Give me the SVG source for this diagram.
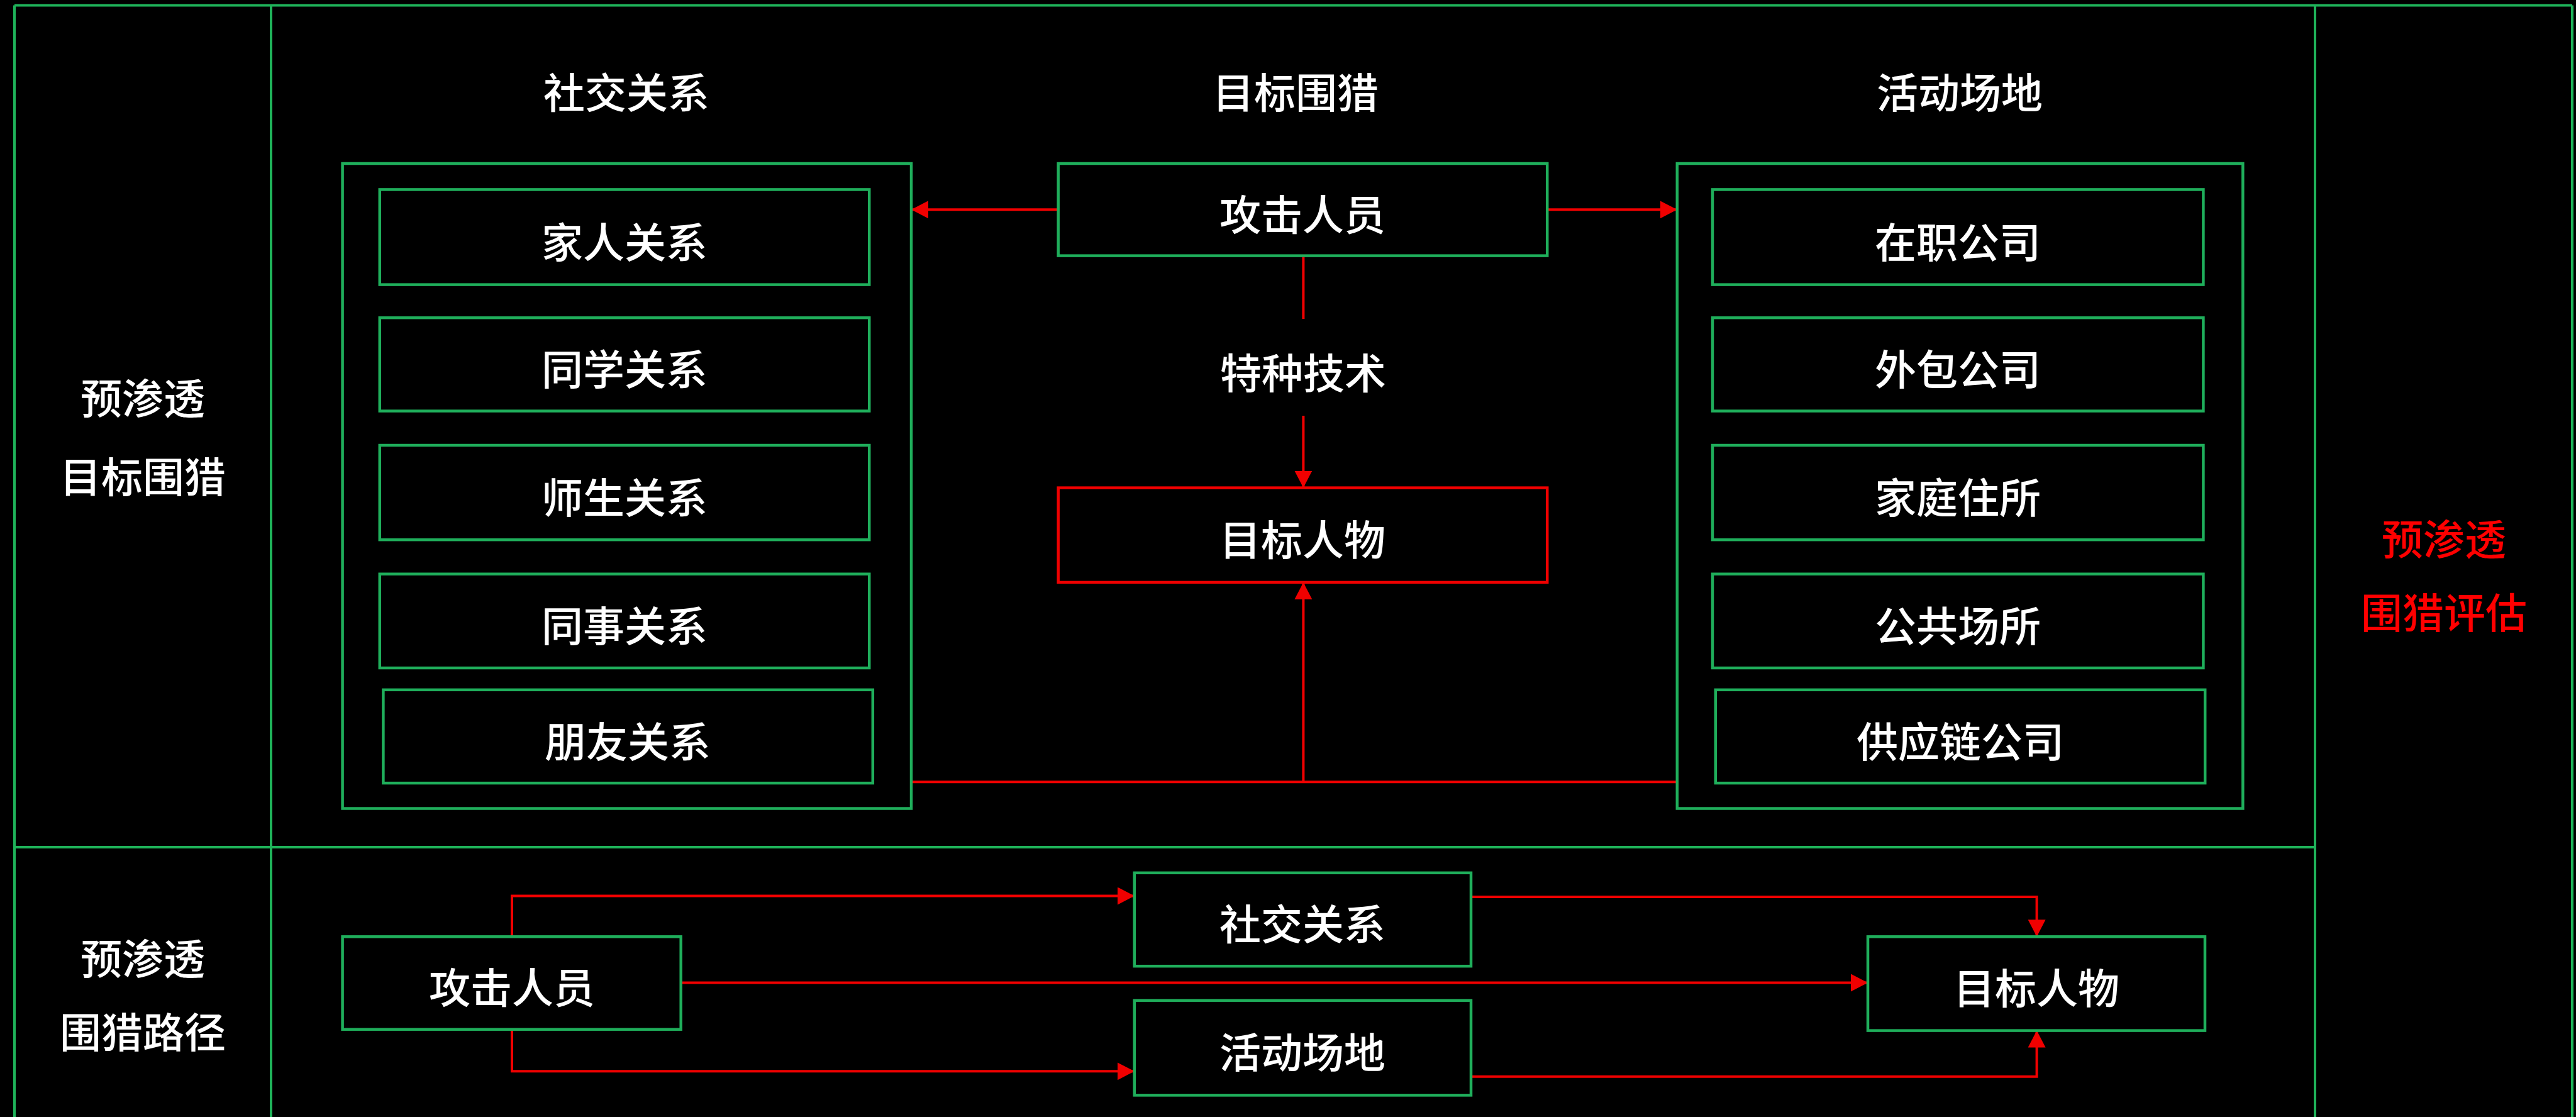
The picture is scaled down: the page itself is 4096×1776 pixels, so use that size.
<svg xmlns="http://www.w3.org/2000/svg" width="4096" height="1776" viewBox="0 0 4096 1776">
<defs>
<style>
.frame{fill:none;stroke:#1fb35a;stroke-width:4}
.box{fill:#000;stroke:#1fae5b;stroke-width:4.5}
.rbox{fill:#000;stroke:#f00000;stroke-width:4.5}
.wire{fill:none;stroke:#f00000;stroke-width:4}
.t{font-family:"Noto Sans CJK SC","Noto Sans CJK JP",sans-serif;font-size:66px;font-weight:500;fill:#fff;text-anchor:middle;dominant-baseline:central}
.rt{fill:#ff0000}
</style>
<marker id="ah" markerUnits="userSpaceOnUse" markerWidth="28" markerHeight="28" refX="27" refY="14" orient="auto">
<path d="M0,0 L27,14 L0,28 z" fill="#f00000"/>
</marker>
</defs>
<rect width="4096" height="1776" fill="#000"/>
<g id="frame">
<line class="frame" x1="23" y1="8.5" x2="4090" y2="8.5"/>
<line class="frame" x1="23" y1="8.5" x2="23" y2="1776"/>
<line class="frame" x1="431" y1="8.5" x2="431" y2="1776"/>
<line class="frame" x1="3681" y1="8.5" x2="3681" y2="1776"/>
<line class="frame" x1="4090" y1="8.5" x2="4090" y2="1776"/>
<line class="frame" x1="23" y1="1347" x2="3681" y2="1347"/>
</g>
<g id="labels">
<text class="t" x="227" y="629">预渗透</text>
<text class="t" x="227" y="754">目标围猎</text>
<text class="t" x="227" y="1520">预渗透</text>
<text class="t" x="227" y="1637">围猎路径</text>
<text class="t rt" x="3886" y="853">预渗透</text>
<text class="t rt" x="3886" y="970">围猎评估</text>
<text class="t" x="996" y="143">社交关系</text>
<text class="t" x="2060" y="143">目标围猎</text>
<text class="t" x="3116" y="143">活动场地</text>
</g>
<g id="connectors">
<line class="wire" x1="1682.7" y1="333.3" x2="1449" y2="333.3" marker-end="url(#ah)"/>
<line class="wire" x1="2460.2" y1="333.3" x2="2666.8" y2="333.3" marker-end="url(#ah)"/>
<line class="wire" x1="2072.4" y1="406.6" x2="2072.4" y2="507"/>
<line class="wire" x1="2072.4" y1="661" x2="2072.4" y2="775.6" marker-end="url(#ah)"/>
<line class="wire" x1="1449" y1="1243.2" x2="2666.8" y2="1243.2"/>
<line class="wire" x1="2072.4" y1="1243.2" x2="2072.4" y2="925.9" marker-end="url(#ah)"/>
<polyline class="wire" points="814,1489.3 814,1424.5 1803.8,1424.5" marker-end="url(#ah)"/>
<polyline class="wire" points="2339,1426 3238.6,1426 3238.6,1489.3" marker-end="url(#ah)"/>
<line class="wire" x1="1082.7" y1="1562.5" x2="2970" y2="1562.5" marker-end="url(#ah)"/>
<polyline class="wire" points="814,1636.7 814,1703.3 1803.8,1703.3" marker-end="url(#ah)"/>
<polyline class="wire" points="2339,1711.8 3238.6,1711.8 3238.6,1638.6" marker-end="url(#ah)"/>
</g>
<g id="social-group">
<rect class="box" x="544.6" y="260" width="904.4" height="1025.5"/>
</g>
<g id="n-family"><rect class="box" x="603.8" y="301.4" width="778.4" height="151.2"/><text class="t" x="993" y="381">家人关系</text></g>
<g id="n-classmate"><rect class="box" x="603.8" y="505.2" width="778.4" height="148.3"/><text class="t" x="993" y="583">同学关系</text></g>
<g id="n-teacher"><rect class="box" x="603.8" y="708" width="778.4" height="150.2"/><text class="t" x="993" y="787">师生关系</text></g>
<g id="n-colleague"><rect class="box" x="603.8" y="912.7" width="778.4" height="149.3"/><text class="t" x="993" y="991">同事关系</text></g>
<g id="n-friend"><rect class="box" x="609.4" y="1096.8" width="778.4" height="148.3"/><text class="t" x="998" y="1175">朋友关系</text></g>
<g id="venue-group">
<rect class="box" x="2666.8" y="260" width="899.5" height="1025.5"/>
</g>
<g id="n-company"><rect class="box" x="2723" y="301.4" width="780.4" height="151.2"/><text class="t" x="3113" y="381">在职公司</text></g>
<g id="n-outsource"><rect class="box" x="2723" y="505.2" width="780.4" height="148.3"/><text class="t" x="3113" y="583">外包公司</text></g>
<g id="n-home"><rect class="box" x="2723" y="708" width="780.4" height="150.2"/><text class="t" x="3113" y="787">家庭住所</text></g>
<g id="n-public"><rect class="box" x="2723" y="912.7" width="780.4" height="149.3"/><text class="t" x="3113" y="991">公共场所</text></g>
<g id="n-supply"><rect class="box" x="2727.8" y="1096.8" width="778.4" height="148.3"/><text class="t" x="3117" y="1175">供应链公司</text></g>
<g id="n-attacker"><rect class="box" x="1682.7" y="260" width="777.5" height="146.6"/><text class="t" x="2071" y="337">攻击人员</text></g>
<g id="n-tech"><text class="t" x="2072" y="589">特种技术</text></g>
<g id="n-target"><rect class="rbox" x="1682.7" y="775.6" width="777.5" height="150.3"/><text class="t" x="2071" y="854">目标人物</text></g>
<g id="n-attacker2"><rect class="box" x="544.6" y="1489.3" width="538.1" height="147.4"/><text class="t" x="814" y="1566">攻击人员</text></g>
<g id="n-social2"><rect class="box" x="1803.8" y="1387.8" width="535.2" height="148.4"/><text class="t" x="2071" y="1465">社交关系</text></g>
<g id="n-venue2"><rect class="box" x="1803.8" y="1590.7" width="535.2" height="150.7"/><text class="t" x="2071" y="1669">活动场地</text></g>
<g id="n-target2"><rect class="box" x="2970" y="1489.3" width="536" height="149.3"/><text class="t" x="3238" y="1567">目标人物</text></g>
</svg>
